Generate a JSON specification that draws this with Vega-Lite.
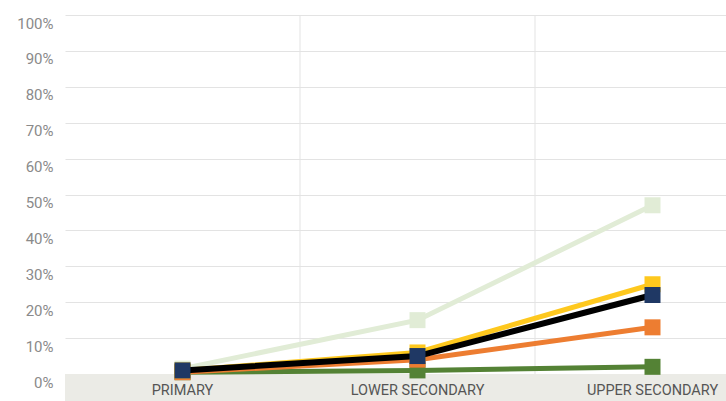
{
  "$schema": "https://vega.github.io/schema/vega-lite/v6.json",
  "width": 661,
  "height": 359,
  "autosize": {"type": "none"},
  "padding": {"left": 65, "top": 15, "right": 0, "bottom": 27},
  "background": "#ffffff",
  "config": {
    "view": {"stroke": null},
    "font": "Roboto, sans-serif"
  },
  "data": {
    "values": [
      {"group": "A", "level": "PRIMARY", "share": 1.5},
      {"group": "A", "level": "LOWER SECONDARY", "share": 15},
      {"group": "A", "level": "UPPER SECONDARY", "share": 47},
      {"group": "B", "level": "PRIMARY", "share": 0.5},
      {"group": "B", "level": "LOWER SECONDARY", "share": 1},
      {"group": "B", "level": "UPPER SECONDARY", "share": 2},
      {"group": "C", "level": "PRIMARY", "share": 0.5},
      {"group": "C", "level": "LOWER SECONDARY", "share": 4},
      {"group": "C", "level": "UPPER SECONDARY", "share": 13},
      {"group": "D", "level": "PRIMARY", "share": 1},
      {"group": "D", "level": "LOWER SECONDARY", "share": 6},
      {"group": "D", "level": "UPPER SECONDARY", "share": 25},
      {"group": "E", "level": "PRIMARY", "share": 1},
      {"group": "E", "level": "LOWER SECONDARY", "share": 5},
      {"group": "E", "level": "UPPER SECONDARY", "share": 22}
    ]
  },
  "encoding": {
    "x": {
      "field": "level",
      "type": "nominal",
      "sort": ["PRIMARY", "LOWER SECONDARY", "UPPER SECONDARY"],
      "scale": {"type": "band", "range": [0, 705], "paddingInner": 0, "paddingOuter": 0},
      "axis": {
        "title": null,
        "orient": "bottom",
        "zindex": 2,
        "domain": false,
        "ticks": false,
        "grid": false,
        "labelAngle": 0,
        "labelPadding": 16,
        "labelBaseline": "middle",
        "labelFontSize": 14.5,
        "labelColor": "#555555"
      }
    },
    "y": {
      "field": "share",
      "type": "quantitative",
      "scale": {"domain": [0, 100], "nice": false},
      "axis": {
        "title": null,
        "values": [0, 10, 20, 30, 40, 50, 60, 70, 80, 90, 100],
        "labelExpr": "datum.value + '%'",
        "domain": false,
        "ticks": false,
        "labelPadding": 12,
        "labelOffset": 8,
        "labelFontSize": 15,
        "labelColor": "#8a8a8a",
        "gridColor": "#e3e3e3",
        "gridWidth": 1
      }
    }
  },
  "layer": [
    {
      "description": "vertical separators at the start of each later school level",
      "transform": [{"filter": "datum.group === 'A' && datum.level !== 'PRIMARY'"}],
      "mark": {"type": "rule", "color": "#e3e3e3", "strokeWidth": 1},
      "encoding": {
        "x": {"field": "level", "type": "nominal", "sort": ["PRIMARY", "LOWER SECONDARY", "UPPER SECONDARY"], "bandPosition": 0},
        "y": null
      }
    },
    {
      "description": "grey strip behind the category labels",
      "transform": [{"filter": "datum.group === 'A'"}],
      "mark": {"type": "rect", "color": "#ebebe6", "clip": false},
      "encoding": {
        "y": {"datum": 0, "type": "quantitative"},
        "y2": {"datum": -7.6}
      }
    },
    {
      "transform": [{"filter": "datum.group !== 'E'"}],
      "mark": {"type": "line", "strokeWidth": 5},
      "encoding": {
        "color": {
          "field": "group",
          "type": "nominal",
          "scale": {"domain": ["A", "B", "C", "D"], "range": ["#e1ecd6", "#548235", "#ed7d31", "#fec81e"]},
          "legend": null
        }
      }
    },
    {
      "transform": [{"filter": "datum.group !== 'E'"}],
      "mark": {"type": "point", "shape": "square", "filled": true, "opacity": 1, "size": 256},
      "encoding": {
        "color": {"field": "group", "type": "nominal", "legend": null}
      }
    },
    {
      "transform": [{"filter": "datum.group === 'E'"}],
      "mark": {"type": "line", "strokeWidth": 6, "color": "#000000"},
      "encoding": {}
    },
    {
      "transform": [{"filter": "datum.group === 'E'"}],
      "mark": {"type": "point", "shape": "square", "filled": true, "opacity": 1, "size": 256, "color": "#1f3864"},
      "encoding": {}
    }
  ]
}
